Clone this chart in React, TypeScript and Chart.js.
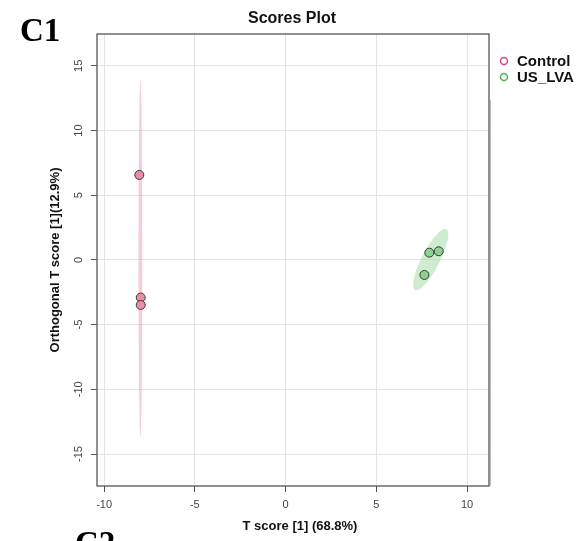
import React, { useEffect, useRef } from "react";
import { Chart, registerables } from "chart.js";

Chart.register(...registerables);

// ---- data ----
const seriesNames = ["Control", "US_LVA"];
const controlX = [-8.06, -7.98, -7.98];
const controlY = [6.57, -2.91, -3.48];
const usLvaX = [7.92, 8.44, 7.65];
const usLvaY = [0.56, 0.67, -1.16];

const xTicks = [-10, -5, 0, 5, 10];
const yTicks = [-15, -10, -5, 0, 5, 10, 15];

// confidence ellipses (center, semi-axis vectors in data units)
const ellipseCenterX = [-8.0, 8.0];
const ellipseCenterY = [0.1, 0.03];
const ellipseAxisU = [[0, 13.8], [0.86, 2.35]];
const ellipseAxisV = [[0.1, 0], [0.44, -0.32]];

const titleText = "Scores Plot";
const xTitle = "T score [1] (68.8%)";
const yTitle = "Orthogonal T score [1](12.9%)";

// ---- styles ----
const pointFill = ["#EC8DA5", "#8ED08E"];
const legendStroke = ["#E0457B", "#4DB34D"];
const ellipseFill = ["rgba(238,140,170,0.45)", "rgba(170,220,170,0.55)"];
const SANS = "'Liberation Sans', Arial, Helvetica, sans-serif";
const SERIF = "'Liberation Serif', 'Times New Roman', serif";

const overlay = {
  id: "overlay",
  beforeDatasetsDraw(chart: any) {
    const { ctx, chartArea: a, scales } = chart;
    const xs = scales.x;
    const ys = scales.y;
    ctx.save();
    ctx.beginPath();
    ctx.rect(a.left, a.top, a.right - a.left, a.bottom - a.top);
    ctx.clip();
    ellipseCenterX.forEach((cx, i) => {
      const cy = ellipseCenterY[i];
      const u = ellipseAxisU[i];
      const v = ellipseAxisV[i];
      ctx.beginPath();
      const n = 160;
      for (let k = 0; k <= n; k++) {
        const t = (k / n) * Math.PI * 2;
        const dx = cx + u[0] * Math.cos(t) + v[0] * Math.sin(t);
        const dy = cy + u[1] * Math.cos(t) + v[1] * Math.sin(t);
        const px = xs.getPixelForValue(dx);
        const py = ys.getPixelForValue(dy);
        if (k === 0) ctx.moveTo(px, py);
        else ctx.lineTo(px, py);
      }
      ctx.closePath();
      ctx.fillStyle = ellipseFill[i];
      ctx.fill();
    });
    ctx.restore();
  },
  afterDraw(chart: any) {
    const { ctx, chartArea: a, scales } = chart;
    const ys = scales.y;
    ctx.save();
    // frame
    ctx.strokeStyle = "#555";
    ctx.lineWidth = 1.3;
    ctx.strokeRect(a.left, a.top, a.right - a.left, a.bottom - a.top);
    ctx.strokeStyle = "rgba(140,140,140,0.6)";
    ctx.lineWidth = 1.5;
    ctx.beginPath();
    ctx.moveTo(a.right + 1.2, 100);
    ctx.lineTo(a.right + 1.2, a.bottom);
    ctx.stroke();

    // y tick labels (rotated)
    ctx.fillStyle = "#444";
    ctx.font = `11px ${SANS}`;
    ctx.textAlign = "center";
    ctx.textBaseline = "middle";
    yTicks.forEach((v) => {
      const py = ys.getPixelForValue(v);
      ctx.save();
      ctx.translate(79, py);
      ctx.rotate(-Math.PI / 2);
      ctx.fillText(String(v), 0, 0);
      ctx.restore();
    });

    // axis titles
    ctx.fillStyle = "#111";
    ctx.font = `bold 13px ${SANS}`;
    ctx.fillText(xTitle, 300, 526);
    ctx.save();
    ctx.translate(55, (a.top + a.bottom) / 2);
    ctx.rotate(-Math.PI / 2);
    ctx.fillText(yTitle, 0, 0);
    ctx.restore();

    // title
    ctx.font = `bold 16px ${SANS}`;
    ctx.fillText(titleText, 292, 19);

    // legend
    ctx.textAlign = "left";
    ctx.font = `bold 15px ${SANS}`;
    seriesNames.forEach((name, i) => {
      const ly = 61 + i * 16;
      ctx.beginPath();
      ctx.arc(504, ly, 3.5, 0, Math.PI * 2);
      ctx.strokeStyle = legendStroke[i];
      ctx.lineWidth = 1.5;
      ctx.stroke();
      ctx.fillStyle = "#111";
      ctx.fillText(name, 517, ly + 1);
    });

    // panel labels
    ctx.fillStyle = "#000";
    ctx.textBaseline = "alphabetic";
    ctx.font = `bold 33px ${SERIF}`;
    ctx.fillText("C1", 20, 41);
    ctx.fillText("C2", 75, 554);
    ctx.restore();
  },
};

export default function App() {
  const ref = useRef<HTMLCanvasElement | null>(null);
  useEffect(() => {
    if (!ref.current) return;
    const chart = new Chart(ref.current, {
      type: "scatter",
      data: {
        datasets: [
          {
            label: seriesNames[0],
            data: controlX.map((x, i) => ({ x, y: controlY[i] })),
            backgroundColor: pointFill[0],
            borderColor: "#3a3a3a",
            borderWidth: 1,
            pointRadius: 4.5,
          },
          {
            label: seriesNames[1],
            data: usLvaX.map((x, i) => ({ x, y: usLvaY[i] })),
            backgroundColor: pointFill[1],
            borderColor: "#3a3a3a",
            borderWidth: 1,
            pointRadius: 4.5,
          },
        ],
      },
      options: {
        responsive: false,
        animation: false,
        layout: { padding: { left: 0, top: 34, right: 93, bottom: 0 } },
        plugins: {
          legend: { display: false },
          title: { display: false },
          tooltip: { enabled: false },
        },
        scales: {
          x: {
            type: "linear",
            min: -10.39,
            max: 11.21,
            afterBuildTicks: (s: any) => {
              s.ticks = xTicks.map((v) => ({ value: v }));
            },
            afterFit: (s: any) => {
              s.height = 55;
            },
            border: { display: false },
            grid: {
              color: "#e4e4e4",
              lineWidth: 1,
              tickColor: "#555",
              tickLength: 6,
            },
            ticks: {
              color: "#444",
              font: { family: SANS, size: 11 },
              padding: 6,
              maxRotation: 0,
            },
          },
          y: {
            type: "linear",
            min: -17.47,
            max: 17.46,
            afterBuildTicks: (s: any) => {
              s.ticks = yTicks.map((v) => ({ value: v }));
            },
            afterFit: (s: any) => {
              s.width = 97;
            },
            border: { display: false },
            grid: {
              color: "#e4e4e4",
              lineWidth: 1,
              tickColor: "#555",
              tickLength: 6,
            },
            ticks: { display: false },
          },
        },
      },
      plugins: [overlay],
    });
    return () => chart.destroy();
  }, []);
  return (
    <div style={{ position: "absolute", left: 0, top: 0, width: 582, height: 541, background: "#fff" }}>
      <canvas ref={ref} width={582} height={541} style={{ display: "block" }} />
    </div>
  );
}
